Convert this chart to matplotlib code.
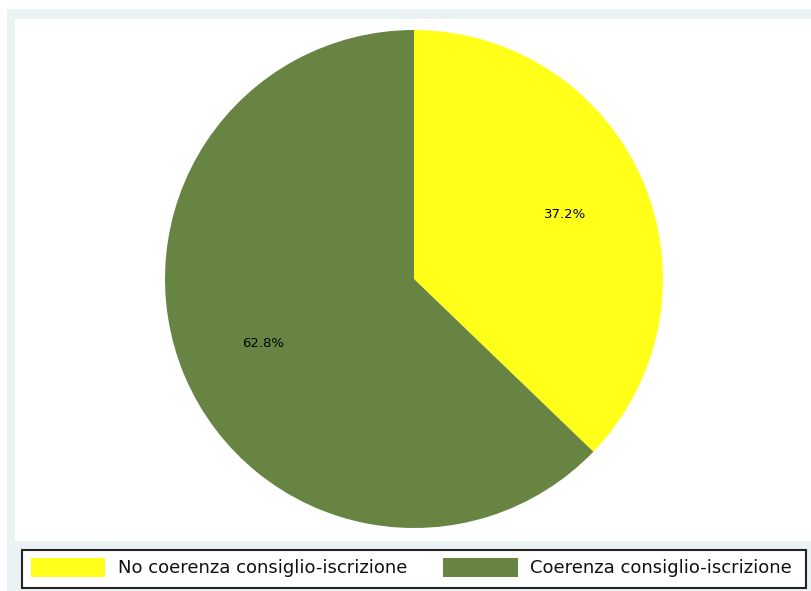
import matplotlib
matplotlib.use("Agg")
import matplotlib.pyplot as plt
from matplotlib.patches import Rectangle

categories = ["No coerenza consiglio-iscrizione", "Coerenza consiglio-iscrizione"]
values = [37.2, 62.8]
colors = ["#FFFF1A", "#688442"]

W, H = 812, 591
fig = plt.figure(figsize=(W / 100, H / 100), dpi=100)
fig.patch.set_facecolor("white")

def px_rect(x0, y0, x1, y1, **kw):
    # pixel coords, y from top
    r = Rectangle((x0 / W, 1 - y1 / H), (x1 - x0) / W, (y1 - y0) / H,
                  transform=fig.transFigure, **kw)
    fig.add_artist(r)
    return r

px_rect(7, 9, 812, 591, facecolor="#EAF2F3", edgecolor="none", zorder=0)
px_rect(15, 19, 812, 541, facecolor="white", edgecolor="none", zorder=0)

cx, cy, R = 414, 279, 249
ax = fig.add_axes([(cx - R) / W, 1 - (cy + R) / H, 2 * R / W, 2 * R / H])
ax.set_facecolor("none")
wedges, texts, autotexts = ax.pie(values, colors=colors, startangle=90, counterclock=False,
                                  autopct="%1.1f%%", pctdistance=0.66, radius=1,
                                  wedgeprops=dict(linewidth=0),
                                  textprops=dict(fontsize=9.5, color="black", family="DejaVu Sans"))
ax.set_xlim(-1, 1)
ax.set_ylim(-1, 1)
ax.axis("off")

# legend
px_rect(22, 550, 806, 588, facecolor="white", edgecolor="#222222", linewidth=1.5, zorder=2)
sw = [(31, 105), (443, 518)]
tx = [118, 530]
for i, cat in enumerate(categories):
    px_rect(sw[i][0], 558, sw[i][1], 577, facecolor=colors[i], edgecolor="none", zorder=3)
    fig.text(tx[i] / W, 1 - 568 / H, cat, fontsize=13, va="center", ha="left",
             color="#111111", zorder=4, family="DejaVu Sans")

fig.savefig("out.png", dpi=100)
